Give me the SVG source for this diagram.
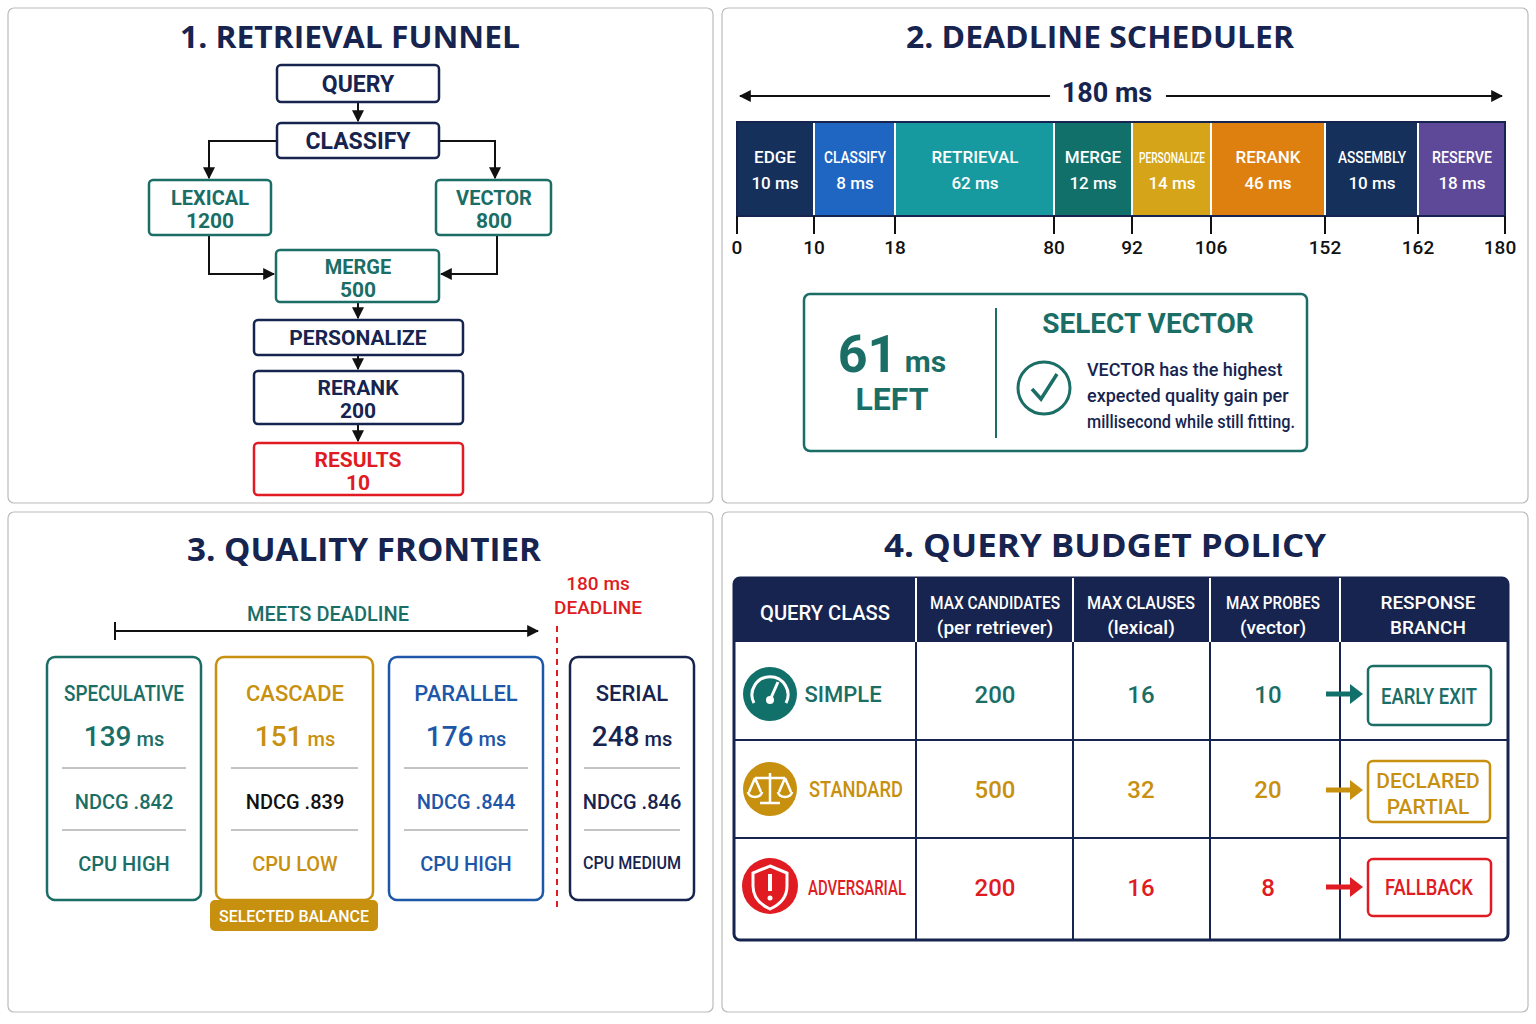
<svg xmlns="http://www.w3.org/2000/svg" width="1536" height="1024" viewBox="0 0 1536 1024">
<defs>
<style>
.pn{fill:#fff;stroke:#bbb;stroke-width:1.2}
.t{font-family:"Open Sans","DejaVu Sans",sans-serif;font-weight:bold;fill:#16244f;text-anchor:middle}
.c{font-family:Roboto,"Liberation Sans",sans-serif;text-anchor:middle;font-weight:500}
.b{font-weight:bold}
.n{fill:#fff;stroke-width:2.5}
.nv{stroke:#16244f}.tl{stroke:#1a6e66}.rd{stroke:#e01b22}.gd{stroke:#c8900f}.bl{stroke:#1e57a8}
.fnv{fill:#16244f}.ftl{fill:#1a6e66}.frd{fill:#e01b22}.fgd{fill:#c8900f}.fbl{fill:#1e57a8}.fw{fill:#fff}
.ln{stroke:#111;stroke-width:2;fill:none}
</style>
<marker id="a" viewBox="0 0 10 10" refX="9" refY="5" markerWidth="6" markerHeight="6" orient="auto"><path d="M0,0L10,5L0,10z" fill="#111"/></marker>
</defs>
<rect width="1536" height="1024" fill="#fff"/>
<rect class="pn" x="8" y="8" width="705" height="495" rx="6"/>
<rect class="pn" x="722" y="8" width="806" height="495" rx="6"/>
<rect class="pn" x="8" y="512" width="705" height="500" rx="6"/>
<rect class="pn" x="722" y="512" width="806" height="500" rx="6"/>

<text class="t" x="350" y="48" font-size="30" textLength="340" lengthAdjust="spacingAndGlyphs">1. RETRIEVAL FUNNEL</text>
<text class="t" x="1100" y="48" font-size="30" textLength="388" lengthAdjust="spacingAndGlyphs">2. DEADLINE SCHEDULER</text>
<text class="t" x="364" y="561" font-size="32" textLength="354" lengthAdjust="spacingAndGlyphs">3. QUALITY FRONTIER</text>
<text class="t" x="1105" y="557" font-size="32" textLength="442" lengthAdjust="spacingAndGlyphs">4. QUERY BUDGET POLICY</text>

<!-- Panel 1 -->
<g id="connectors1">
<path class="ln" d="M358,102V121" marker-end="url(#a)"/>
<path class="ln" d="M277,141H209V178" marker-end="url(#a)"/>
<path class="ln" d="M439,141H495V178" marker-end="url(#a)"/>
<path class="ln" d="M209,235V274H274" marker-end="url(#a)"/>
<path class="ln" d="M497,235V274H441" marker-end="url(#a)"/>
<path class="ln" d="M358,302V318" marker-end="url(#a)"/>
<path class="ln" d="M358,355V369" marker-end="url(#a)"/>
<path class="ln" d="M358,424V441" marker-end="url(#a)"/>
</g>
<g id="query"><rect class="n nv" x="277" y="65" width="162" height="37" rx="4"/><text class="c b fnv" x="358" y="92" font-size="23">QUERY</text></g>
<g id="classify"><rect class="n nv" x="277" y="123" width="162" height="35" rx="4"/><text class="c b fnv" x="358" y="149" font-size="23">CLASSIFY</text></g>
<g id="lexical"><rect class="n tl" x="149" y="180" width="122" height="55" rx="4"/><text class="c b ftl" x="210" y="205" font-size="20">LEXICAL</text><text class="c b ftl" x="210" y="228" font-size="21">1200</text></g>
<g id="vector"><rect class="n tl" x="436" y="180" width="115" height="55" rx="4"/><text class="c b ftl" x="494" y="205" font-size="20">VECTOR</text><text class="c b ftl" x="494" y="228" font-size="21">800</text></g>
<g id="merge"><rect class="n tl" x="276" y="250" width="163" height="52" rx="4"/><text class="c b ftl" x="358" y="274" font-size="20">MERGE</text><text class="c b ftl" x="358" y="297" font-size="21">500</text></g>
<g id="personalize"><rect class="n nv" x="254" y="320" width="209" height="35" rx="4"/><text class="c b fnv" x="358" y="345" font-size="21">PERSONALIZE</text></g>
<g id="rerank"><rect class="n nv" x="254" y="371" width="209" height="53" rx="4"/><text class="c b fnv" x="358" y="395" font-size="21">RERANK</text><text class="c b fnv" x="358" y="418" font-size="21">200</text></g>
<g id="results"><rect class="n rd" x="254" y="443" width="209" height="52" rx="4"/><text class="c b frd" x="358" y="467" font-size="21">RESULTS</text><text class="c b frd" x="358" y="490" font-size="21">10</text></g>

<!-- Panel 2 -->
<g id="timeline">
<path class="ln" d="M1050,96H740" marker-end="url(#a)"/>
<path class="ln" d="M1166,96H1502" marker-end="url(#a)"/>
<text class="c b fnv" x="1107" y="102" font-size="27">180 ms</text>
<rect x="737" y="122" width="77" height="94" fill="#15305a"/>
<rect x="814" y="122" width="81" height="94" fill="#1f66c2"/>
<rect x="895" y="122" width="159" height="94" fill="#1799a0"/>
<rect x="1054" y="122" width="78" height="94" fill="#12706a"/>
<rect x="1132" y="122" width="79" height="94" fill="#d6a419"/>
<rect x="1211" y="122" width="114" height="94" fill="#de8010"/>
<rect x="1325" y="122" width="93" height="94" fill="#15305a"/>
<rect x="1418" y="122" width="87" height="94" fill="#5e4898"/>
<g stroke="#fff" stroke-width="2"><path d="M814,122V216M895,122V216M1054,122V216M1132,122V216M1211,122V216M1325,122V216M1418,122V216"/></g>
<rect x="737" y="122" width="768" height="94" fill="none" stroke="#16244f" stroke-width="2"/>
<g stroke="#111" stroke-width="2"><path d="M737,216V234M814,216V234M895,216V234M1054,216V234M1132,216V234M1211,216V234M1325,216V234M1418,216V234M1505,216V234"/></g>
<g class="c fw" font-size="17">
<text x="775" y="163">EDGE</text><text x="775" y="189">10 ms</text>
<text x="855" y="163" textLength="62" lengthAdjust="spacingAndGlyphs">CLASSIFY</text><text x="855" y="189">8 ms</text>
<text x="975" y="163">RETRIEVAL</text><text x="975" y="189">62 ms</text>
<text x="1093" y="163">MERGE</text><text x="1093" y="189">12 ms</text>
<text x="1172" y="163" font-size="14" textLength="66" lengthAdjust="spacingAndGlyphs">PERSONALIZE</text><text x="1172" y="189">14 ms</text>
<text x="1268" y="163">RERANK</text><text x="1268" y="189">46 ms</text>
<text x="1372" y="163" textLength="68" lengthAdjust="spacingAndGlyphs">ASSEMBLY</text><text x="1372" y="189">10 ms</text>
<text x="1462" y="163" textLength="60" lengthAdjust="spacingAndGlyphs">RESERVE</text><text x="1462" y="189">18 ms</text>
</g>
<g class="c" font-size="19" fill="#111">
<text x="737" y="254">0</text><text x="814" y="254">10</text><text x="895" y="254">18</text><text x="1054" y="254">80</text><text x="1132" y="254">92</text><text x="1211" y="254">106</text><text x="1325" y="254">152</text><text x="1418" y="254">162</text><text x="1500" y="254">180</text>
</g>
</g>
<g id="decision">
<rect x="804" y="294" width="503" height="157" rx="6" fill="#fff" stroke="#1a6e66" stroke-width="2.5"/>
<line x1="996" y1="308" x2="996" y2="438" stroke="#1a6e66" stroke-width="2"/>
<text class="c b ftl" x="892" y="372"><tspan font-size="52">61</tspan><tspan font-size="30"> ms</tspan></text>
<text class="c b ftl" x="892" y="410" font-size="32">LEFT</text>
<text class="c b ftl" x="1148" y="333" font-size="28">SELECT VECTOR</text>
<circle cx="1044" cy="388" r="26" fill="none" stroke="#1a6e66" stroke-width="3"/>
<path d="M1032,389L1041,399L1057,374" fill="none" stroke="#1a6e66" stroke-width="3.5"/>
<g font-family="Roboto,sans-serif" font-size="18" font-weight="500" fill="#16244f"><text x="1087" y="376">VECTOR has the highest</text><text x="1087" y="402">expected quality gain per</text><text x="1087" y="428" textLength="208" lengthAdjust="spacingAndGlyphs">millisecond while still fitting.</text></g>
</g>

<!-- Panel 3 -->
<g id="frontier-axis">
<path class="ln" d="M115,631H538" marker-end="url(#a)"/>
<path class="ln" d="M115,622V640"/>
<text class="c ftl" x="328" y="621" font-size="20">MEETS DEADLINE</text>
<text class="c frd" x="598" y="590" font-size="19">180 ms</text>
<text class="c frd" x="598" y="614" font-size="19">DEADLINE</text>
<line x1="557" y1="626" x2="557" y2="912" stroke="#e01b22" stroke-width="2" stroke-dasharray="6,5"/>
</g>
<g id="speculative"><rect class="n tl" x="47" y="657" width="154" height="243" rx="8"/>
<text class="c ftl" x="124" y="701" font-size="22" textLength="120" lengthAdjust="spacingAndGlyphs">SPECULATIVE</text><text class="c ftl" x="124" y="746"><tspan font-size="28">139</tspan><tspan font-size="20"> ms</tspan></text>
<line x1="62" y1="768" x2="186" y2="768" stroke="#888"/><text class="c ftl" x="124" y="809" font-size="20">NDCG .842</text>
<line x1="62" y1="830" x2="186" y2="830" stroke="#888"/><text class="c ftl" x="124" y="871" font-size="20">CPU HIGH</text></g>
<g id="cascade"><rect class="n gd" x="216" y="657" width="157" height="243" rx="8"/>
<text class="c fgd" x="295" y="701" font-size="22">CASCADE</text><text class="c fgd" x="295" y="746"><tspan font-size="28">151</tspan><tspan font-size="20"> ms</tspan></text>
<line x1="231" y1="768" x2="358" y2="768" stroke="#888"/><text class="c" x="295" y="809" font-size="20" fill="#111">NDCG .839</text>
<line x1="231" y1="830" x2="358" y2="830" stroke="#888"/><text class="c fgd" x="295" y="871" font-size="20">CPU LOW</text>
<rect x="210" y="900" width="168" height="31" rx="5" fill="#c8900f"/><text class="c fw" x="294" y="922" font-size="17" textLength="150" lengthAdjust="spacingAndGlyphs">SELECTED BALANCE</text></g>
<g id="parallel"><rect class="n bl" x="389" y="657" width="154" height="243" rx="8"/>
<text class="c fbl" x="466" y="701" font-size="22">PARALLEL</text><text class="c fbl" x="466" y="746"><tspan font-size="28">176</tspan><tspan font-size="20"> ms</tspan></text>
<line x1="404" y1="768" x2="528" y2="768" stroke="#888"/><text class="c fbl" x="466" y="809" font-size="20">NDCG .844</text>
<line x1="404" y1="830" x2="528" y2="830" stroke="#888"/><text class="c fbl" x="466" y="871" font-size="20">CPU HIGH</text></g>
<g id="serial"><rect class="n nv" x="570" y="657" width="124" height="243" rx="8"/>
<text class="c fnv" x="632" y="701" font-size="22">SERIAL</text><text class="c fnv" x="632" y="746"><tspan font-size="28">248</tspan><tspan font-size="20"> ms</tspan></text>
<line x1="584" y1="768" x2="680" y2="768" stroke="#888"/><text class="c fnv" x="632" y="809" font-size="20">NDCG .846</text>
<line x1="584" y1="830" x2="680" y2="830" stroke="#888"/><text class="c fnv" x="632" y="869" font-size="18" textLength="98" lengthAdjust="spacingAndGlyphs">CPU MEDIUM</text></g>

<!-- Panel 4 -->
<g id="policy-table">
<rect x="734" y="578" width="774" height="362" rx="6" fill="#fff" stroke="#16244f" stroke-width="3"/>
<path d="M740,578H1502a6,6 0 0 1 6,6V642H734V584a6,6 0 0 1 6,-6z" fill="#16244f"/>
<g stroke="#16244f" stroke-width="2"><path d="M916,578V940M1073,578V940M1210,578V940M1340,578V940M734,740H1508M734,838H1508"/></g>
<g stroke="#fff" stroke-width="2"><path d="M916,578V642M1073,578V642M1210,578V642M1340,578V642"/></g>
<g class="c fw" font-size="19">
<text x="825" y="620" font-size="21" textLength="130" lengthAdjust="spacingAndGlyphs">QUERY CLASS</text>
<text x="995" y="609" textLength="130" lengthAdjust="spacingAndGlyphs">MAX CANDIDATES</text><text x="995" y="634">(per retriever)</text>
<text x="1141" y="609" textLength="108" lengthAdjust="spacingAndGlyphs">MAX CLAUSES</text><text x="1141" y="634">(lexical)</text>
<text x="1273" y="609" textLength="94" lengthAdjust="spacingAndGlyphs">MAX PROBES</text><text x="1273" y="634">(vector)</text>
<text x="1428" y="609">RESPONSE</text><text x="1428" y="634">BRANCH</text>
</g>
<g id="simple">
<circle cx="770" cy="694" r="27" fill="#12706a"/>
<path d="M754,703A18,18 0 1 1 786,703" fill="none" stroke="#fff" stroke-width="3"/>
<line x1="770" y1="700" x2="778" y2="682" stroke="#fff" stroke-width="3"/><circle cx="770" cy="700" r="4" fill="#fff"/>
<text class="c ftl" x="843" y="702" font-size="22">SIMPLE</text>
<text class="c ftl" x="995" y="703" font-size="24">200</text><text class="c ftl" x="1141" y="703" font-size="24">16</text><text class="c ftl" x="1268" y="703" font-size="24">10</text>
<path d="M1326,694H1352" stroke="#12706a" stroke-width="5"/><path d="M1350,684L1363,694L1350,704z" fill="#12706a"/>
<rect class="n tl" x="1368" y="666" width="123" height="59" rx="5"/><text class="c ftl" x="1429" y="704" font-size="22" textLength="96" lengthAdjust="spacingAndGlyphs">EARLY EXIT</text>
</g>
<g id="standard">
<circle cx="770" cy="789" r="27" fill="#c8900f"/>
<g stroke="#fff" stroke-width="2.5" fill="none"><path d="M770,773V803M760,803H780M755,778H785M755,778L749,792M755,778L761,792M785,778L779,792M785,778L791,792M748,792A7,5 0 0 0 762,792M778,792A7,5 0 0 0 792,792"/></g>
<text class="c fgd" x="856" y="797" font-size="22" textLength="94" lengthAdjust="spacingAndGlyphs">STANDARD</text>
<text class="c fgd" x="995" y="798" font-size="24">500</text><text class="c fgd" x="1141" y="798" font-size="24">32</text><text class="c fgd" x="1268" y="798" font-size="24">20</text>
<path d="M1326,790H1352" stroke="#c8900f" stroke-width="5"/><path d="M1350,780L1363,790L1350,800z" fill="#c8900f"/>
<rect class="n gd" x="1368" y="761" width="122" height="61" rx="5"/><text class="c fgd" x="1428" y="788" font-size="21">DECLARED</text><text class="c fgd" x="1428" y="814" font-size="21">PARTIAL</text>
</g>
<g id="adversarial">
<circle cx="770" cy="886" r="28" fill="#e01b22"/>
<path d="M770,866L787,873V886C787,898 779,905 770,909C761,905 753,898 753,886V873Z" fill="none" stroke="#fff" stroke-width="3"/>
<path d="M770,874V891" stroke="#fff" stroke-width="4"/><circle cx="770" cy="898" r="2.5" fill="#fff"/>
<text class="c frd" x="857" y="895" font-size="20" textLength="98" lengthAdjust="spacingAndGlyphs">ADVERSARIAL</text>
<text class="c frd" x="995" y="896" font-size="24">200</text><text class="c frd" x="1141" y="896" font-size="24">16</text><text class="c frd" x="1268" y="896" font-size="24">8</text>
<path d="M1326,887H1352" stroke="#e01b22" stroke-width="5"/><path d="M1350,877L1363,887L1350,897z" fill="#e01b22"/>
<rect class="n rd" x="1368" y="859" width="123" height="57" rx="5"/><text class="c frd" x="1429" y="895" font-size="22" textLength="88" lengthAdjust="spacingAndGlyphs">FALLBACK</text>
</g>
</g>
</svg>
